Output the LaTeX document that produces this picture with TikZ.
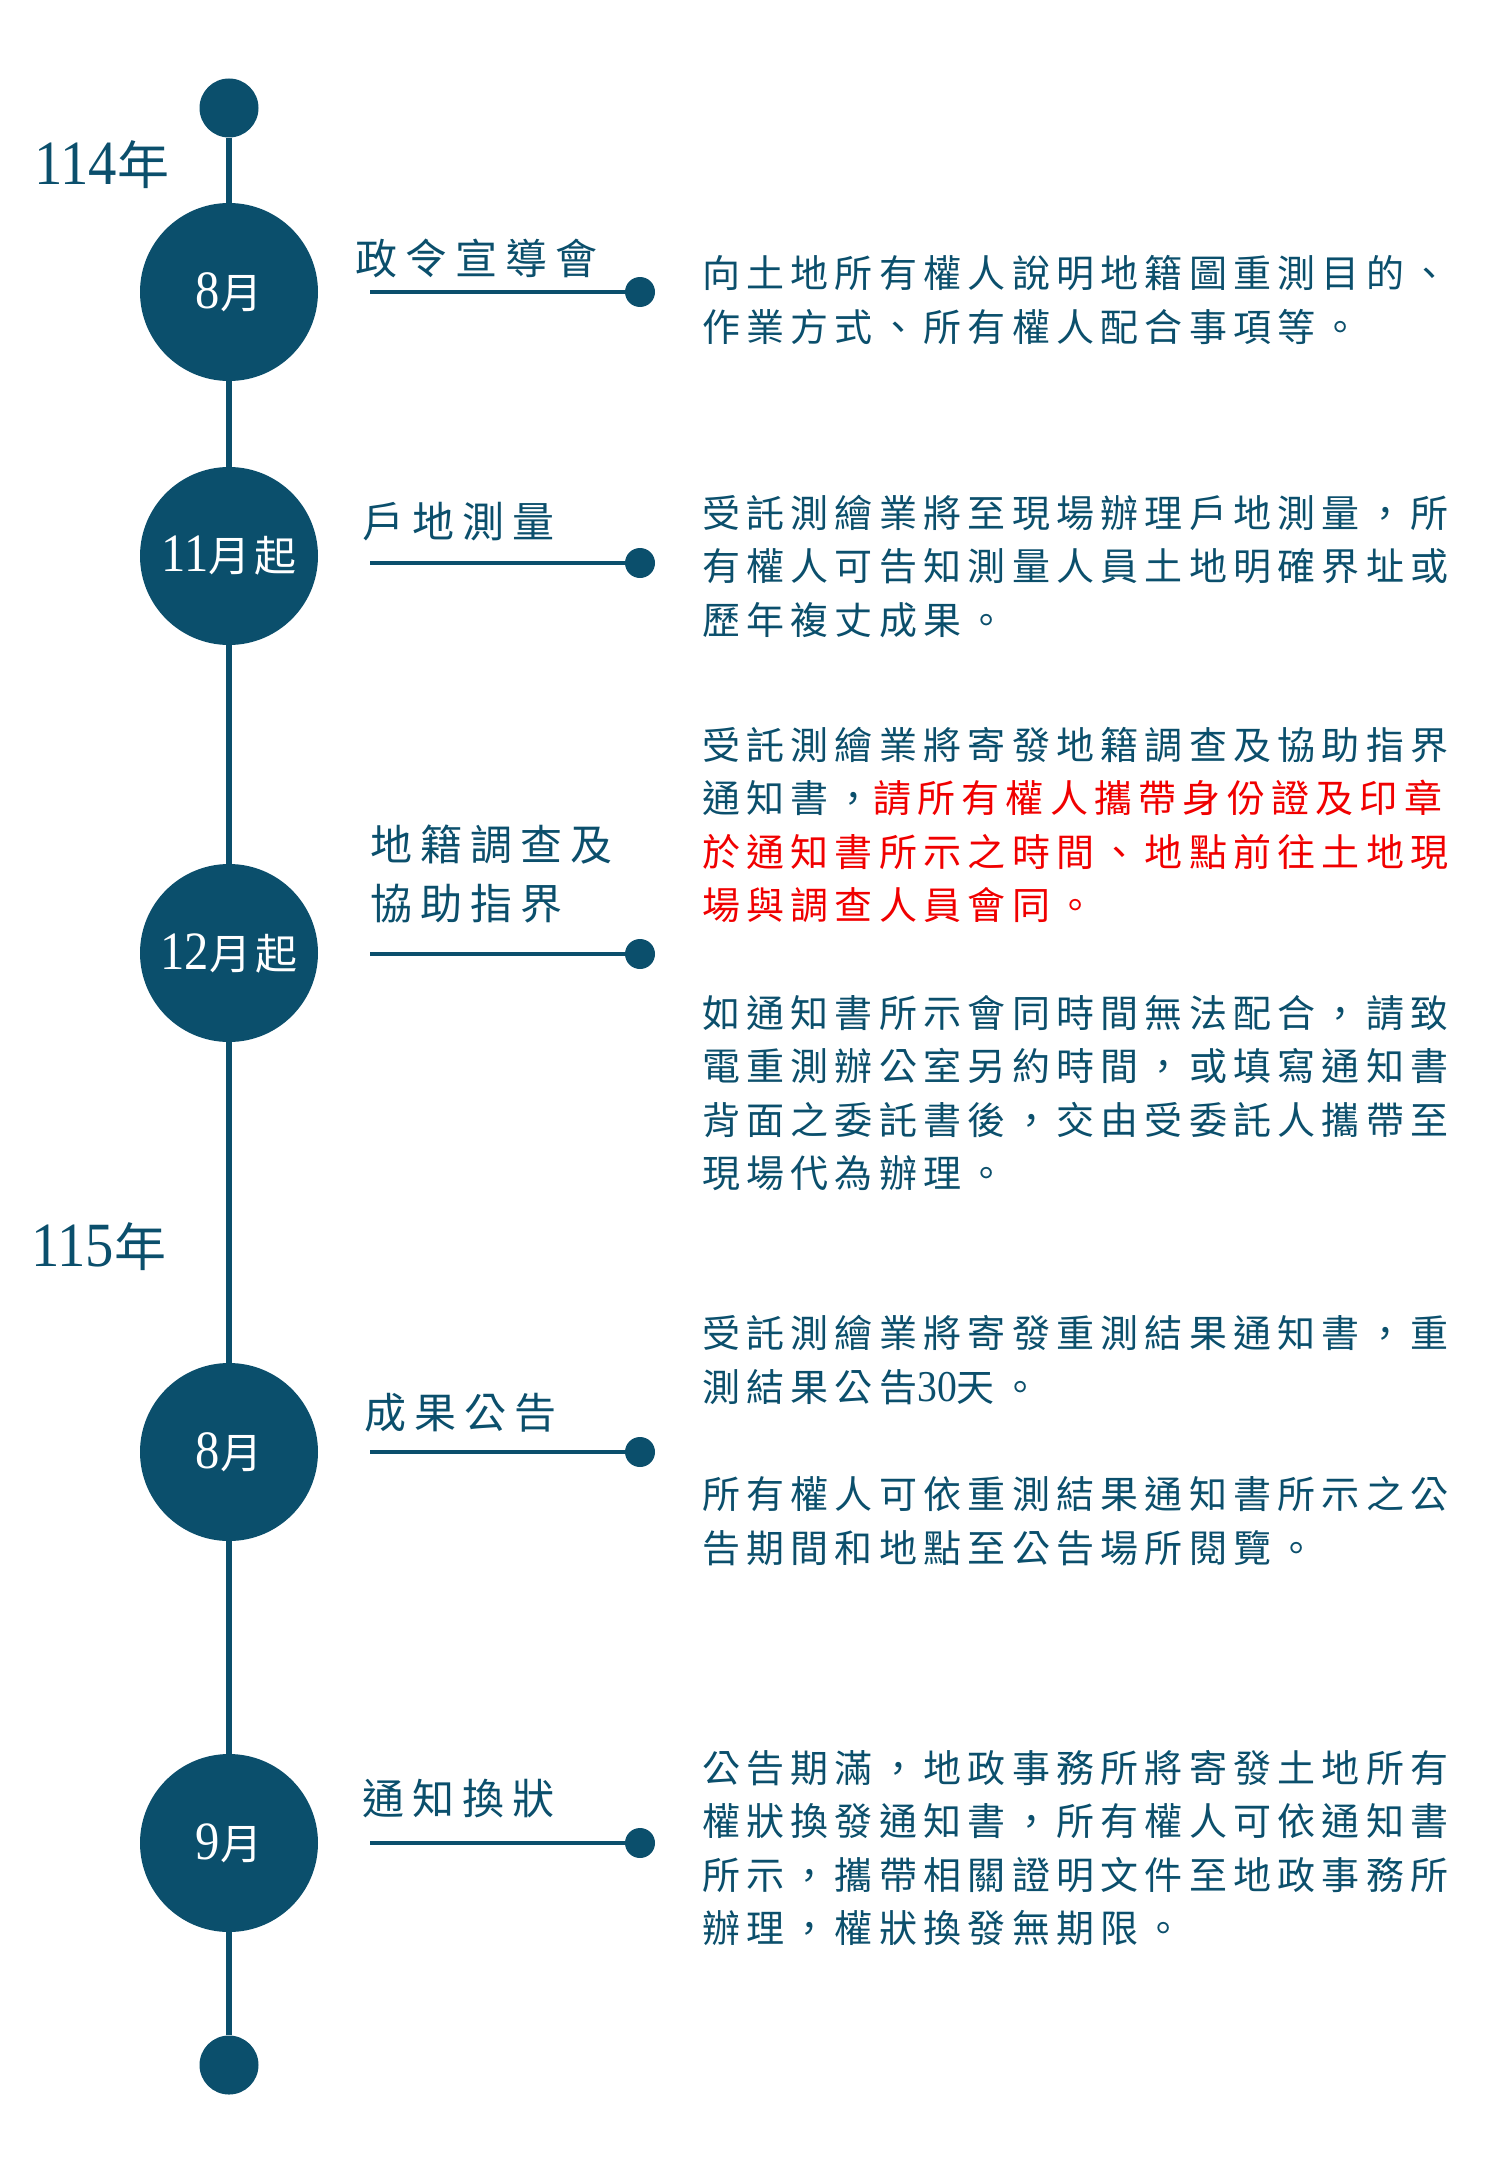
\documentclass[tikz,border=0pt]{standalone}
\usepackage{fontspec}
\usepackage{xcolor}
\usepackage{tikz}

\newfontfamily\cjkd[LetterSpace=16.5]{Noto Sans CJK TC}
\newfontfamily\cjkt[LetterSpace=19]{Noto Sans CJK TC}
\newfontfamily\cjkm[LetterSpace=10]{Noto Sans CJK TC}
\newfontfamily\lat[FakeStretch=0.9]{Liberation Serif}
\definecolor{tlblue}{HTML}{0B4F6C}
\definecolor{tlred}{HTML}{F00000}
\newcommand{\mdig}[1]{{\lat\fontsize{54}{54}\selectfont #1}}
\newcommand{\ydig}[1]{{\lat\fontsize{63}{63}\selectfont #1}}
\newcommand{\warn}[1]{\textcolor{tlred}{#1}}

\tikzset{
  tline/.style={draw=tlblue, line width=6pt},
  link/.style={draw=tlblue, line width=4pt},
  month/.style={circle, fill=tlblue, minimum size=178pt, inner sep=0pt, text=white, font=\cjkm\fontsize{42}{42}\selectfont},
  enddot/.style={circle, fill=tlblue, minimum size=59pt, inner sep=0pt},
  linkdot/.style={circle, fill=tlblue, minimum size=30pt, inner sep=0pt},
  year/.style={anchor=west, inner sep=0pt, text=tlblue, font=\cjkm\fontsize{52}{52}\selectfont},
  title/.style={anchor=west, inner sep=0pt, text=tlblue, align=left, font=\cjkt\fontsize{42}{59}\selectfont},
  desc/.style={anchor=west, inner sep=0pt, text=tlblue, align=left, font=\cjkd\fontsize{38}{53.5}\selectfont}
}

\begin{document}
\begin{tikzpicture}[x=1pt, y=-1pt]
\useasboundingbox (0,0) rectangle (1500,2167);

% timeline
\node[enddot] (top) at (229,108) {};
\node[month] (m1) at (229,292) {\mdig{8}月};
\node[month] (m2) at (229,556) {\mdig{11}月起};
\node[month] (m3) at (229,953) {\mdig{12}月起};
\node[month] (m4) at (229,1452) {\mdig{8}月};
\node[month] (m5) at (229,1843) {\mdig{9}月};
\node[enddot] (bot) at (229,2065) {};
\draw[tline] (top) -- (m1) -- (m2) -- (m3) -- (m4) -- (m5) -- (bot);

\node[year] (y114) at (34,165) {\ydig{114}年};
\node[year] (y115) at (31,1247) {\ydig{115}年};

% titles and links
\node[title] (t1) at (355,258) {政令宣導會};
\node[title] (t2) at (362,522) {戶地測量};
\node[title] (t3) at (370,874) {地籍調查及\\協助指界};
\node[title] (t4) at (364,1413) {成果公告};
\node[title] (t5) at (362,1799) {通知換狀};

\coordinate (l1) at (370,292);
\coordinate (l2) at (370,563);
\coordinate (l3) at (370,954);
\coordinate (l4) at (370,1452);
\coordinate (l5) at (370,1843);
\node[linkdot] (d1) at (640,292) {};
\node[linkdot] (d2) at (640,563) {};
\node[linkdot] (d3) at (640,954) {};
\node[linkdot] (d4) at (640,1452) {};
\node[linkdot] (d5) at (640,1843) {};
\foreach \i in {1,...,5}
  \draw[link] (l\i) -- (d\i);

% texts
\node[desc] (s1) at (702,300) {向土地所有權人說明地籍圖重測目的、\\作業方式、所有權人配合事項等。};
\node[desc] (s2) at (702,566) {受託測繪業將至現場辦理戶地測量，所\\有權人可告知測量人員土地明確界址或\\歷年複丈成果。};
\node[desc] (s3a) at (702,825) {受託測繪業將寄發地籍調查及協助指界\\通知書，\warn{請所有權人攜帶身份證及印章}\\\warn{於通知書所示之時間、地點前往土地現}\\\warn{場與調查人員會同。}};
\node[desc] (s3b) at (702,1093) {如通知書所示會同時間無法配合，請致\\電重測辦公室另約時間，或填寫通知書\\背面之委託書後，交由受委託人攜帶至\\現場代為辦理。};
\node[desc] (s4a) at (702,1360) {受託測繪業將寄發重測結果通知書，重\\測結果公告{\lat\fontsize{44}{44}\selectfont 30}天。};
\node[desc] (s4b) at (702,1521) {所有權人可依重測結果通知書所示之公\\告期間和地點至公告場所閱覽。};
\node[desc] (s5) at (702,1848) {公告期滿，地政事務所將寄發土地所有\\權狀換發通知書，所有權人可依通知書\\所示，攜帶相關證明文件至地政事務所\\辦理，權狀換發無期限。};
\end{tikzpicture}
\end{document}
